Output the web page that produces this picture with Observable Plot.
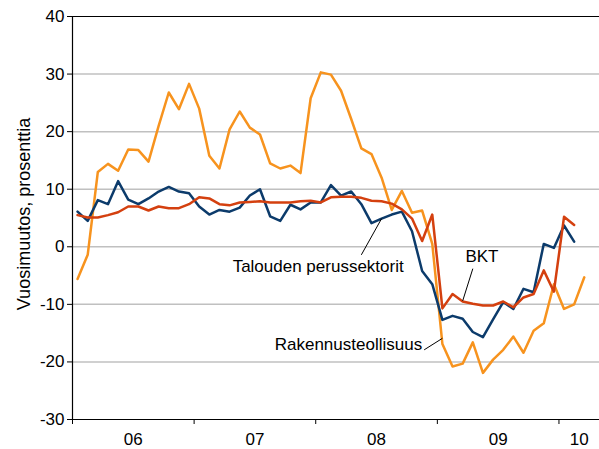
<!DOCTYPE html>
<html><head><meta charset="utf-8">
<script src="https://cdn.jsdelivr.net/npm/d3@7"></script>
<script src="https://cdn.jsdelivr.net/npm/@observablehq/plot@0.6"></script>
<style>body{margin:0;background:#fff;} svg{display:block}</style>
</head><body><div id="chart"></div>
<script>
// Monthly year-on-year change, %, Jan 2006 onward (month index 0 = Jan 2006)
const seriesNames = ["Rakennusteollisuus", "Talouden perussektorit", "BKT"];
const rakennus = [-5.6,-1.4,13.0,14.4,13.2,16.9,16.8,14.8,21.0,26.8,23.9,28.3,
  24.0,15.8,13.6,20.4,23.5,20.7,19.5,14.5,13.6,14.1,12.8,25.8,
  30.3,29.9,27.1,22.2,17.1,16.1,12.0,6.4,9.7,5.9,6.3,0.5,
  -16.9,-20.8,-20.3,-16.6,-21.9,-19.6,-17.9,-15.6,-18.4,-14.6,-13.3,-6.5,
  -10.8,-10.0,-5.3];
const perussektorit = [6.1,4.5,8.1,7.4,11.4,8.2,7.4,8.4,9.6,10.4,9.6,9.3,
  7.0,5.6,6.4,6.1,6.8,8.9,10.0,5.3,4.5,7.3,6.5,7.7,
  7.7,10.7,8.9,9.6,7.4,4.1,4.9,5.6,6.1,2.7,-4.2,-6.5,
  -12.7,-12.0,-12.5,-14.8,-15.7,-12.6,-9.6,-10.8,-7.3,-7.9,0.5,-0.2,
  3.7,0.9];
const bkt = [5.5,5.1,5.1,5.5,6.0,7.0,7.0,6.3,7.0,6.7,6.7,7.4,
  8.6,8.4,7.4,7.2,7.7,7.8,7.9,7.7,7.7,7.7,7.9,8.0,
  7.7,8.6,8.7,8.7,8.5,8.0,7.9,7.5,6.5,4.9,1.0,5.6,
  -10.7,-8.2,-9.5,-9.9,-10.2,-10.2,-9.5,-10.5,-8.8,-8.2,-4.1,-7.8,
  5.2,3.8];
const yearLabels = ["06","07","08","09","10"];
const yearStarts = [0, 12, 24, 36, 48];   // month index where each year begins
const monthsShown = 52;                    // Jan 2006 – Apr 2010
const yTicks = [-30,-20,-10,0,10,20,30,40];

const colors = {"Rakennusteollisuus":"#f7931e", "Talouden perussektorit":"#0c3b6b", "BKT":"#d4400f"};

const rows = [];
[rakennus, perussektorit, bkt].forEach((vals, s) => {
  vals.forEach((v, i) => rows.push({series: seriesNames[s], month: i + 0.5, value: v}));
});

const yearCenters = yearStarts.map((s, k) => (s + Math.min(s + 12, monthsShown)) / 2);
const labelOf = new Map(yearCenters.map((c, k) => [c, yearLabels[k]]));

// annotation placements (in chart units)
const notes = [
  {text: "Talouden perussektorit", x: 15.8, y: -4.3, anchor: "start", lx1: 28.5, ly1: -1.4, lx2: 30.5, ly2: 4.9},
  {text: "BKT", x: 40.4, y: -2.7, anchor: "middle", lx1: 39.5, ly1: -3.8, lx2: 38.5, ly2: -9.4},
  {text: "Rakennusteollisuus", x: 34.5, y: -17.9, anchor: "end", lx1: 34.7, ly1: -17.9, lx2: 36.5, ly2: -15.9}
];

const font = "Liberation Sans, Arial, Helvetica, sans-serif";

const plot = Plot.plot({
  width: 599,
  height: 449,
  marginLeft: 72,
  marginRight: 0,
  marginTop: 16,
  marginBottom: 30,
  style: {fontFamily: font, fontSize: "17px", background: "white", color: "black"},
  x: {domain: [0, monthsShown], axis: null},
  y: {domain: [-30, 40], axis: null},
  marks: [
    Plot.ruleY(yTicks.filter(d => d > -30 && d < 40), {stroke: "#c0c0c0", strokeWidth: 1.5}),
    Plot.ruleY([40], {stroke: "black", strokeWidth: 1.2}),
    Plot.lineY(rows.filter(d => d.series === seriesNames[0]), {x: "month", y: "value", stroke: colors[seriesNames[0]], strokeWidth: 2.5}),
    Plot.lineY(rows.filter(d => d.series === seriesNames[1]), {x: "month", y: "value", stroke: colors[seriesNames[1]], strokeWidth: 2.5}),
    Plot.lineY(rows.filter(d => d.series === seriesNames[2]), {x: "month", y: "value", stroke: colors[seriesNames[2]], strokeWidth: 2.5}),
    Plot.link(notes, {x1: "lx1", y1: "ly1", x2: "lx2", y2: "ly2", stroke: "black", strokeWidth: 1}),
    ...notes.map(n => Plot.text([n], {x: "x", y: "y", text: "text", textAnchor: n.anchor, lineAnchor: "bottom", fill: "black", fontSize: 17})),
    Plot.ruleY([-30], {stroke: "black", strokeWidth: 1.2}),
    Plot.ruleX([0], {stroke: "black", strokeWidth: 1.2}),
    Plot.axisY({ticks: yTicks, tickSize: 5, tickPadding: 3, tickFormat: d => String(d), label: null, fontSize: 17}),
    Plot.axisX({ticks: yearStarts, tickSize: 5, tickFormat: () => "", label: null}),
    Plot.axisX({ticks: yearCenters, tickSize: 0, tickPadding: 13, tickFormat: d => labelOf.get(d), label: null, fontSize: 17})
  ]
});

const svg = d3.select(plot);
svg.append("text")
  .attr("transform", "translate(30,214) rotate(-90)")
  .attr("text-anchor", "middle")
  .attr("font-family", font)
  .attr("font-size", 18)
  .attr("fill", "black")
  .text("Vuosimuutos, prosenttia");

document.getElementById("chart").appendChild(plot);
</script></body></html>
